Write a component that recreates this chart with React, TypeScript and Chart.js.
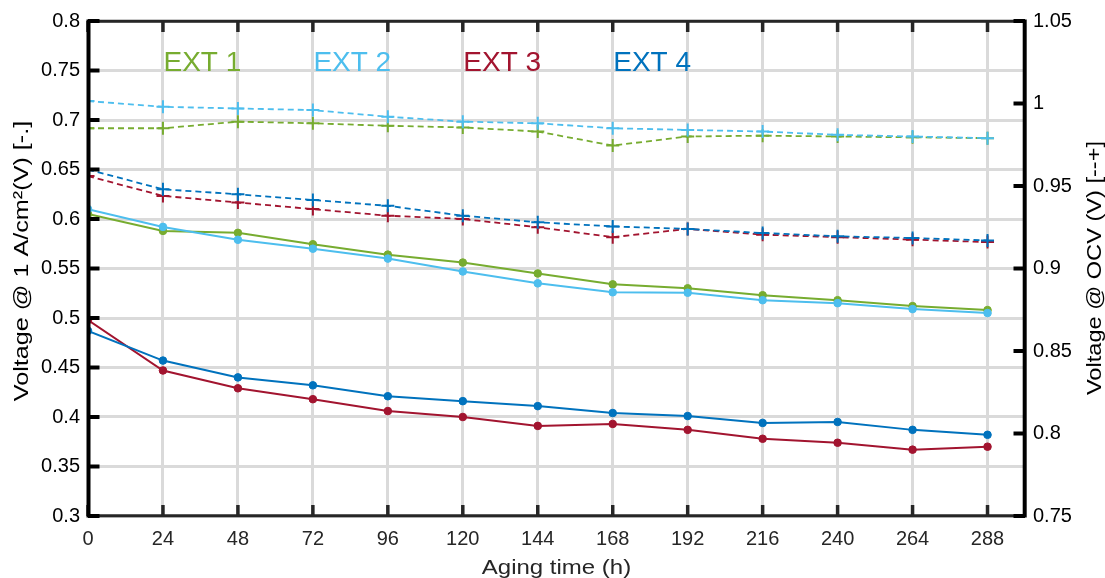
import React, { useEffect, useRef } from 'react';
import { Chart, registerables } from 'chart.js';

Chart.register(...registerables);

// ---- data ----
const hours = [0, 24, 48, 72, 96, 120, 144, 168, 192, 216, 240, 264, 288];

const seriesNames = ['EXT 1', 'EXT 2', 'EXT 3', 'EXT 4'];
const seriesColors = ['#77AC30', '#4DBEEE', '#A2142F', '#0072BD'];

// Voltage @ 1 A/cm² (left axis, solid with dots)
const ext1Current = [0.605, 0.588, 0.586, 0.5745, 0.564, 0.556, 0.545, 0.534, 0.530, 0.523, 0.518, 0.512, 0.508];
const ext2Current = [0.610, 0.592, 0.579, 0.570, 0.560, 0.547, 0.535, 0.526, 0.5255, 0.518, 0.515, 0.509, 0.505];
const ext3Current = [0.498, 0.447, 0.429, 0.418, 0.406, 0.400, 0.391, 0.393, 0.387, 0.378, 0.374, 0.367, 0.370];
const ext4Current = [0.487, 0.457, 0.440, 0.432, 0.421, 0.416, 0.411, 0.404, 0.401, 0.394, 0.395, 0.387, 0.382];

// Voltage @ OCV (right axis, dashed with +)
const ext1Ocv = [0.985, 0.985, 0.989, 0.988, 0.9865, 0.9855, 0.983, 0.9745, 0.980, 0.9805, 0.980, 0.9795, 0.979];
const ext2Ocv = [1.0015, 0.998, 0.997, 0.996, 0.992, 0.989, 0.988, 0.985, 0.984, 0.983, 0.981, 0.980, 0.979];
const ext3Ocv = [0.956, 0.944, 0.940, 0.936, 0.932, 0.930, 0.925, 0.919, 0.924, 0.9205, 0.919, 0.9175, 0.916];
const ext4Ocv = [0.960, 0.948, 0.945, 0.9415, 0.938, 0.932, 0.928, 0.9255, 0.924, 0.9215, 0.9195, 0.9185, 0.917];

const currentSeries = [ext1Current, ext2Current, ext3Current, ext4Current];
const ocvSeries = [ext1Ocv, ext2Ocv, ext3Ocv, ext4Ocv];

// label anchors (hours, left-axis value)
const labelHours = [24, 72, 120, 168];
const labelLevel = 0.75;

const xTitle = 'Aging time (h)';
const yLeftTitle = 'Voltage @ 1 A/cm²(V) [-.]';
const yRightTitle = 'Voltage @ OCV (V) [--+]';

const FONT = "'Liberation Sans', Arial, Helvetica, sans-serif";

const fmt = (v: number) => String(Number(Number(v).toFixed(2)));

const drawStretched = (ctx: any, text: string, x: number, y: number, rot: number, sx: number, color: string) => {
  ctx.save();
  ctx.translate(x, y);
  ctx.rotate(rot);
  ctx.scale(sx, 1);
  ctx.fillStyle = color;
  ctx.font = `20px ${FONT}`;
  ctx.textAlign = 'center';
  ctx.textBaseline = 'alphabetic';
  ctx.fillText(text, 0, 0);
  ctx.restore();
};

const framePlugin = {
  id: 'matlabFrame',
  afterDraw(chart: any) {
    const { ctx, chartArea: a, scales } = chart;
    const xs = scales.x;
    const yl = scales.y;
    const yr = scales.y2;
    ctx.save();
    const seg = (x1: number, y1: number, x2: number, y2: number) => {
      ctx.beginPath();
      ctx.moveTo(x1, y1);
      ctx.lineTo(x2, y2);
      ctx.stroke();
    };
    // top & bottom
    ctx.strokeStyle = '#262626';
    ctx.lineWidth = 3;
    seg(a.left, a.top + 0.3, a.right, a.top + 0.3);
    seg(a.left, a.bottom - 0.3, a.right, a.bottom - 0.3);
    // x ticks (inside, top and bottom)
    ctx.lineWidth = 3.5;
    xs.ticks.forEach((t: any) => {
      const px = xs.getPixelForValue(t.value);
      seg(px, a.top, px, a.top + 11);
      seg(px, a.bottom, px, a.bottom - 11);
    });
    // left & right axes
    ctx.strokeStyle = '#000';
    ctx.lineWidth = 4;
    seg(a.left + 0.5, a.top - 1.5, a.left + 0.5, a.bottom + 1.5);
    seg(a.right - 0.3, a.top - 1.5, a.right - 0.3, a.bottom + 1.5);
    yl.ticks.forEach((t: any) => {
      const py = yl.getPixelForValue(t.value);
      seg(a.left, py, a.left + 11.5, py);
    });
    yr.ticks.forEach((t: any) => {
      const py = yr.getPixelForValue(t.value);
      seg(a.right, py, a.right - 11.5, py);
    });
    // series labels
    ctx.font = `28px ${FONT}`;
    ctx.textAlign = 'left';
    ctx.textBaseline = 'alphabetic';
    seriesNames.forEach((n, i) => {
      ctx.fillStyle = seriesColors[i];
      ctx.fillText(n, xs.getPixelForValue(labelHours[i]) + 0.5, yl.getPixelForValue(labelLevel) + 0.7);
    });
    ctx.restore();
    // axis titles
    drawStretched(ctx, xTitle, (a.left + a.right) / 2, 574, 0, 1.2, '#262626');
    drawStretched(ctx, yLeftTitle, 28, 261, -Math.PI / 2, 1.26, '#000');
    drawStretched(ctx, yRightTitle, 1100.5, 268, -Math.PI / 2, 1.18, '#000');
  },
};

export default function App() {
  const ref = useRef<HTMLCanvasElement>(null);

  useEffect(() => {
    const canvas = ref.current;
    if (!canvas) return;
    const datasets: any[] = [];
    seriesNames.forEach((name, i) => {
      datasets.push({
        label: `${name} @ 1 A/cm²`,
        data: hours.map((h, k) => ({ x: h, y: currentSeries[i][k] })),
        yAxisID: 'y',
        borderColor: seriesColors[i],
        backgroundColor: seriesColors[i],
        borderWidth: 2,
        pointStyle: 'circle',
        pointRadius: 3.8,
        pointBorderWidth: 1,
        pointBackgroundColor: seriesColors[i],
        pointBorderColor: seriesColors[i],
        tension: 0,
        clip: 0,
      });
      datasets.push({
        label: `${name} @ OCV`,
        data: hours.map((h, k) => ({ x: h, y: ocvSeries[i][k] })),
        yAxisID: 'y2',
        borderColor: seriesColors[i],
        backgroundColor: seriesColors[i],
        borderWidth: 1.8,
        borderDash: [6, 4],
        pointStyle: 'cross',
        pointRadius: 6.5,
        pointBorderWidth: 2,
        pointBorderColor: seriesColors[i],
        tension: 0,
        clip: 0,
      });
    });
    datasets.forEach((d, i) => (d.order = 100 - i));

    const chart = new Chart(canvas, {
      type: 'line',
      data: { datasets },
      options: {
        animation: false,
        responsive: false,
        devicePixelRatio: 1,
        layout: { padding: { top: 21, left: 0, right: 0, bottom: 0 } },
        plugins: { legend: { display: false }, tooltip: { enabled: false } },
        scales: {
          x: {
            type: 'linear',
            min: 0,
            max: 300,
            afterFit: (s: any) => { s.height = 62; },
            border: { display: false },
            grid: { color: '#dadada', lineWidth: 3, drawTicks: false },
            ticks: {
              stepSize: 24,
              includeBounds: false,
              padding: 11,
              color: '#262626',
              font: { family: FONT, size: 20 },
              maxRotation: 0,
              autoSkip: false,
            },
            title: { display: false },
          },
          y: {
            type: 'linear',
            position: 'left',
            min: 0.3,
            max: 0.8,
            afterFit: (s: any) => { s.width = 88; },
            border: { display: false },
            grid: { color: '#dadada', lineWidth: 3, drawTicks: false },
            ticks: {
              stepSize: 0.05,
              padding: 8,
              color: '#000',
              font: { family: FONT, size: 20 },
              callback: (v: any) => fmt(v),
            },
            title: { display: false },
          },
          y2: {
            type: 'linear',
            position: 'right',
            min: 0.75,
            max: 1.05,
            afterFit: (s: any) => { s.width = 80; },
            border: { display: false },
            grid: { display: false, drawTicks: false },
            ticks: {
              stepSize: 0.05,
              padding: 8,
              color: '#000',
              font: { family: FONT, size: 20 },
              callback: (v: any) => fmt(v),
            },
            title: { display: false },
          },
        },
      },
      plugins: [framePlugin],
    });
    return () => chart.destroy();
  }, []);

  return (
    <div style={{ position: 'fixed', left: 0, top: 0, width: 1105, height: 578, background: '#fff' }}>
      <canvas ref={ref} width={1105} height={578} style={{ display: 'block' }} />
    </div>
  );
}
